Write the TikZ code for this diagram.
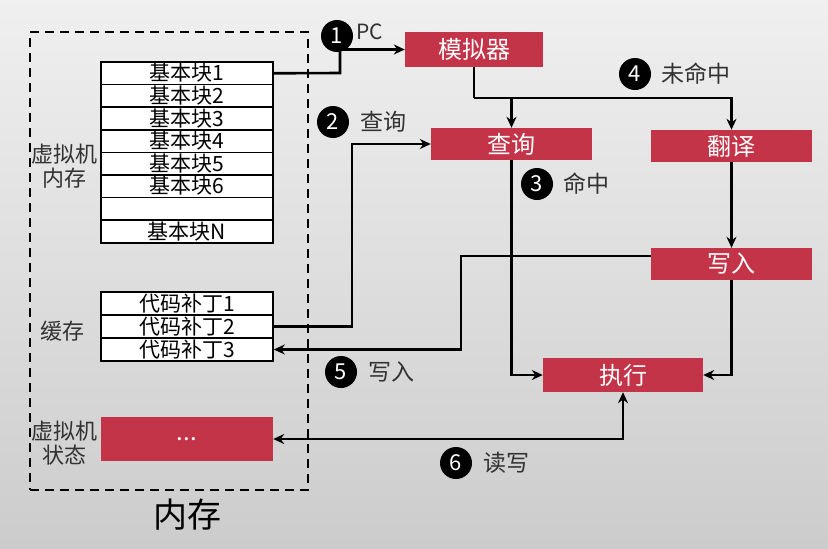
\documentclass[tikz,border=0pt]{standalone}
\usepackage{fontspec}
\setmainfont{Noto Sans CJK SC}
\usetikzlibrary{arrows.meta}
\definecolor{vmred}{RGB}{196,52,72}
\definecolor{lblgray}{RGB}{50,50,50}
\tikzset{
  blk/.style={draw=black, line width=1.6pt, fill=white, minimum width=172pt, minimum height=22.6pt, inner sep=0pt, text height=18pt, text depth=3pt, font=\fontsize{21}{21}\selectfont, text=black},
  redbox/.style={fill=vmred, text=white, inner sep=0pt, font=\fontsize{24}{24}\selectfont},
  num/.style={circle, fill=black, text=white, minimum size=32pt, inner sep=0pt, font=\fontsize{22}{22}\selectfont},
  lbl/.style={text=lblgray, inner sep=0pt, font=\fontsize{23}{23}\selectfont, anchor=west},
  side/.style={text=lblgray, inner sep=0pt, align=center, font=\fontsize{22}{24}\selectfont},
  conn/.style={line width=2.6pt, black},
  arr/.style={conn, -{Stealth[length=11pt,width=10pt]}},
}
\begin{document}
\begin{tikzpicture}[x=1pt, y=-1pt]
\useasboundingbox (0,0) rectangle (828,549);
\shade[top color=gray!12, bottom color=gray!40] (0,0) rectangle (828,549);
% memory dashed box
\node[draw=black, line width=1.8pt, dash pattern=on 9pt off 6pt, minimum width=278pt, minimum height=458pt, inner sep=0pt] (mem) at (169,261) {};
\node[text=black, inner sep=0pt, font=\fontsize{34}{34}\selectfont] (memlbl) at (187,515) {内存};
% basic blocks
\node[blk] (b1) at (187,73.3) {基本块1};
\node[blk] (b2) at (187,95.9) {基本块2};
\node[blk] (b3) at (187,118.5) {基本块3};
\node[blk] (b4) at (187,141.1) {基本块4};
\node[blk] (b5) at (187,163.7) {基本块5};
\node[blk] (b6) at (187,186.3) {基本块6};
\node[blk] (b7) at (187,208.9) {};
\node[blk] (bn) at (187,231.5) {基本块N};
\node[side] (vmmem) at (64,166) {虚拟机\\内存};
% code patches
\node[blk] (p1) at (187,303.5) {代码补丁1};
\node[blk] (p2) at (187,326.5) {代码补丁2};
\node[blk] (p3) at (187,349.5) {代码补丁3};
\node[side] (cache) at (62,331) {缓存};
% vm state
\node[redbox, minimum width=172pt, minimum height=44pt] (vm) at (187,439) {...};
\node[side] (vmst) at (64,443) {虚拟机\\状态};
% red boxes
\node[redbox, minimum width=138pt, minimum height=35pt] (sim) at (474,49.5) {模拟器};
\node[redbox, minimum width=161pt, minimum height=32pt] (q) at (511.5,144) {查询};
\node[redbox, minimum width=161pt, minimum height=32pt] (tr) at (731.5,146) {翻译};
\node[redbox, minimum width=161pt, minimum height=32pt] (wr) at (731.5,264) {写入};
\node[redbox, minimum width=160pt, minimum height=34pt] (ex) at (623,375) {执行};
% junctions
\coordinate (j1) at (340,73);
\coordinate (j2) at (474,98);
\coordinate (j3) at (352,326.5);
\coordinate (j4) at (461,256);
% connectors
\draw[arr] (b1.east) -- (j1) |- (sim.west);
\draw[conn] (sim.south) -- (j2);
\draw[arr] (j2) -| (q.north);
\draw[arr] (j2) -| (tr.north);
\draw[arr] (p2.east) -- (j3) |- (q.west);
\draw[arr] (tr.south) -- (wr.north);
\draw[arr] ([yshift=8pt]wr.west) -- (j4) |- (p3.east);
\draw[arr] (q.south) |- (ex.west);
\draw[arr] (wr.south) |- (ex.east);
\draw[conn, {Stealth[length=11pt,width=10pt]}-{Stealth[length=11pt,width=10pt]}] (vm.east) -| (ex.south);
% step labels
\node[num] (n1) at (337,36) {1};
\node[lbl, font=\fontsize{21}{21}\selectfont] (t1) at (356,32) {PC};
\node[num] (n2) at (333,122) {2};
\node[lbl] (t2) at (360,122) {查询};
\node[num] (n3) at (537,184) {3};
\node[lbl] (t3) at (563,184) {命中};
\node[num] (n4) at (635,74) {4};
\node[lbl] (t4) at (661,74) {未命中};
\node[num] (n5) at (341,372) {5};
\node[lbl] (t5) at (368,372) {写入};
\node[num] (n6) at (456,463) {6};
\node[lbl] (t6) at (483,463) {读写};
\end{tikzpicture}
\end{document}
